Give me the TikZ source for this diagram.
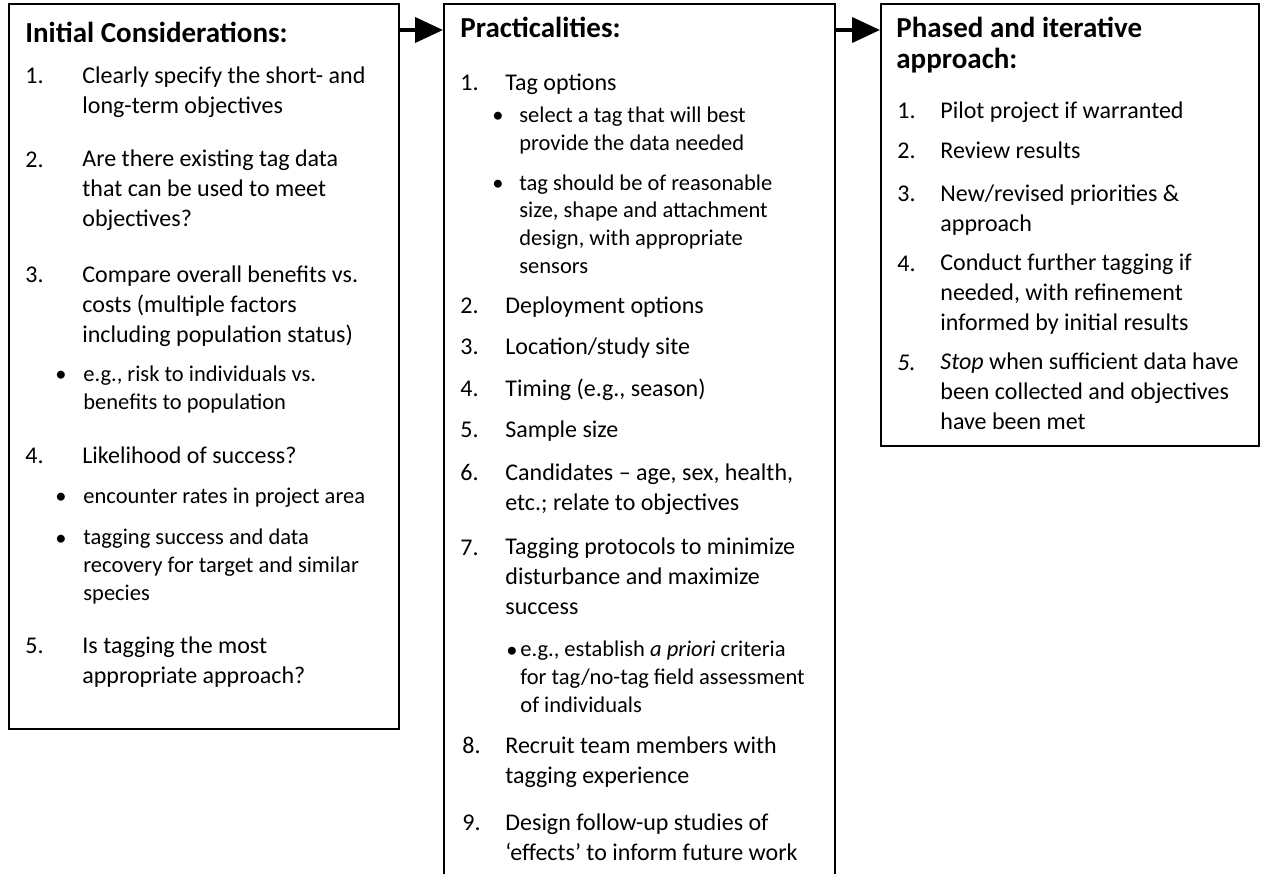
\documentclass[tikz,border=0pt]{standalone}
\usepackage{fontspec}
\setmainfont{Carlito}
\usetikzlibrary{arrows.meta}

\begin{document}
\begin{tikzpicture}[x=0.5pt,y=-0.5pt,
  panel/.style={draw=black,line width=0.8pt,anchor=north west,inner sep=0pt},
  arr/.style={line width=2pt,-{Triangle[length=14pt,width=12.5pt]}},
  item/.style={anchor=base west,inner sep=0pt,align=left,font=\fontsize{12}{14.8}\selectfont},
  sub/.style={item,font=\fontsize{11.25}{13.8}\selectfont},
  head/.style={item,font=\fontsize{14.5}{15.5}\selectfont\bfseries}]
\useasboundingbox (0,0) rectangle (1268,873);
\clip (0,0) rectangle (1268,873);
% boxes
\node[panel,minimum width=195pt,minimum height=362.5pt] (init) at (8,3) {};
\node[panel,minimum width=195.5pt,minimum height=440pt] (prac) at (443,3) {};
\node[panel,minimum width=189pt,minimum height=221pt] (phase) at (880,3) {};
% arrows between boxes
\draw[arr] ([yshift=-13.5pt]init.north east) -- ([yshift=-13.5pt]prac.north west);
\draw[arr] ([yshift=-13.5pt]prac.north east) -- ([yshift=-13.5pt]phase.north west);
% initial considerations (multi-line texts sit on their last baseline)
\node[head] (ict) at (25,42) {Initial Considerations:};
\node[item] (ic1n) at (25,83) {1.};
\node[item] (ic1) at (82,113) {Clearly specify the short- and\\long-term objectives};
\node[item] (ic2n) at (25,167) {2.};
\node[item] (ic2) at (82,226) {Are there existing tag data\\that can be used to meet\\objectives?};
\node[item] (ic3n) at (25,282) {3.};
\node[item] (ic3) at (82,342) {Compare overall benefits vs.\\costs (multiple factors\\including population status)};
\node[sub] (ic3an) at (55,381) {\textbullet};
\node[sub] (ic3a) at (83,409) {e.g., risk to individuals vs.\\benefits to population};
\node[item] (ic4n) at (25,463) {4.};
\node[item] (ic4) at (82,463) {Likelihood of success?};
\node[sub] (ic4an) at (55,503) {\textbullet};
\node[sub] (ic4a) at (83,503) {encounter rates in project area};
\node[sub] (ic4bn) at (55,545) {\textbullet};
\node[sub] (ic4b) at (83,600) {tagging success and data\\recovery for target and similar\\species};
\node[item] (ic5n) at (25,653) {5.};
\node[item] (ic5) at (82,683) {Is tagging the most\\appropriate approach?};
% practicalities
\node[head] (prt) at (460,37) {Practicalities:};
\node[item] (pr1n) at (460,90) {1.};
\node[item] (pr1) at (505,90) {Tag options};
\node[sub] (pr1an) at (492,122) {\textbullet};
\node[sub] (pr1a) at (519,150) {select a tag that will best\\provide the data needed};
\node[sub] (pr1bn) at (492,190) {\textbullet};
\node[sub] (pr1b) at (519,273) {tag should be of reasonable\\size, shape and attachment\\design, with appropriate\\sensors};
\node[item] (pr2n) at (460,313) {2.};
\node[item] (pr2) at (505,313) {Deployment options};
\node[item] (pr3n) at (460,354) {3.};
\node[item] (pr3) at (505,354) {Location/study site};
\node[item] (pr4n) at (460,396) {4.};
\node[item] (pr4) at (505,396) {Timing (e.g., season)};
\node[item] (pr5n) at (460,437) {5.};
\node[item] (pr5) at (505,437) {Sample size};
\node[item] (pr6n) at (460,480) {6.};
\node[item] (pr6) at (505,510) {Candidates -- age, sex, health,\\etc.; relate to objectives};
\node[item] (pr7n) at (460,555) {7.};
\node[item] (pr7) at (505,614) {Tagging protocols to minimize\\disturbance and maximize\\success};
\node[sub] (pr7an) at (506,657) {\textbullet};
\node[sub] (pr7a) at (520,712) {e.g., establish \textit{a priori} criteria\\for tag/no-tag field assessment\\of individuals};
\node[item] (pr8n) at (462,753) {8.};
\node[item] (pr8) at (505,783) {Recruit team members with\\tagging experience};
\node[item] (pr9n) at (462,830) {9.};
\node[item] (pr9) at (505,860) {Design follow-up studies of\\`effects' to inform future work};
% phased and iterative approach
\node[head] (pht) at (896,68) {Phased and iterative\\approach:};
\node[item] (ph1n) at (897,118) {1.};
\node[item] (ph1) at (940,118) {Pilot project if warranted};
\node[item] (ph2n) at (897,158) {2.};
\node[item] (ph2) at (940,158) {Review results};
\node[item] (ph3n) at (897,201) {3.};
\node[item] (ph3) at (940,231) {New/revised priorities \&\\approach};
\node[item] (ph4n) at (897,271) {4.};
\node[item] (ph4) at (940,330) {Conduct further tagging if\\needed, with refinement\\informed by initial results};
\node[item] (ph5n) at (897,370) {\textit{5.}};
\node[item] (ph5) at (940,429) {\textit{Stop} when sufficient data have\\been collected and objectives\\have been met};
\end{tikzpicture}
\end{document}
